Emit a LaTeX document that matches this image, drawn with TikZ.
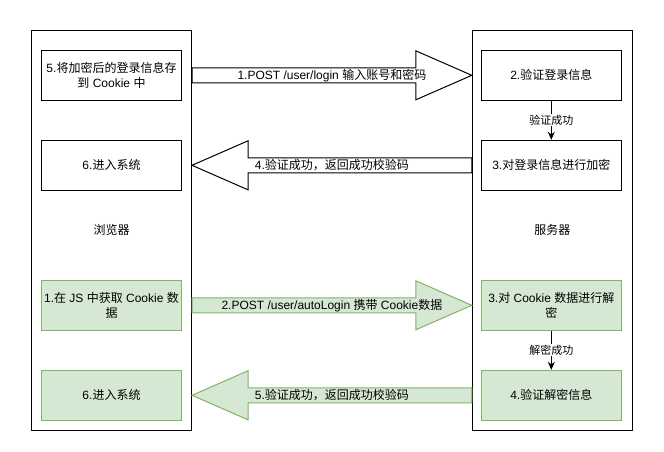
\documentclass[tikz,border=0pt]{standalone}
\usepackage{fontspec}
\setmainfont{Liberation Sans}
\newfontfamily\cjk{Noto Sans CJK SC}
\usetikzlibrary{arrows.meta,calc}
\newcommand{\zh}[1]{{\cjk #1}}
\definecolor{gfill}{HTML}{D5E8D4}
\definecolor{gline}{HTML}{82B366}
% #1 style, #2 tail coordinate, #3 tip coordinate, #4 label
\newcommand{\bigarrow}[4]{%
  \coordinate (hb) at ($(#3)!56pt!(#2)$);
  \draw[#1] ($(#2)+(0,7.5)$) -- ($(hb)+(0,7.5)$) -- ($(hb)+(0,24.5)$) -- (#3)
    -- ($(hb)+(0,-24.5)$) -- ($(hb)+(0,-7.5)$) -- ($(#2)+(0,-7.5)$) -- cycle;
  \node[txt] at ($(#2)!0.5!(#3)$) {#4};
}
\begin{document}
\begin{tikzpicture}[x=1pt,y=-1pt,
  txt/.style={font=\fontsize{12}{14.5}\selectfont, text=black, inner sep=0},
  lane/.style={txt, draw, line width=1pt, minimum width=160pt, minimum height=399.7pt},
  stepbox/.style={txt, draw, line width=1pt, minimum width=140pt, minimum height=50pt, align=center, fill=white},
  greenbox/.style={stepbox, fill=gfill, draw=gline},
  whitearrow/.style={draw=black, fill=white, line width=1pt, line join=miter},
  greenarrow/.style={draw=gline, fill=gfill, line width=1pt, line join=miter},
  flow/.style={draw, line width=1pt, -{Stealth[length=8pt,width=7pt]}},
  flowlab/.style={font=\fontsize{11}{13}\selectfont, fill=white, inner sep=1pt}
]
\useasboundingbox (0,0) rectangle (664,451);

\node[lane] (L) at (111.5,230.15) {\zh{浏览器}};
\node[lane] (R) at (552.3,230.15) {\zh{服务器}};

\node[stepbox]  (a1) at (111.5,75.3)  {5.\zh{将加密后的登录信息存}\\\zh{到} Cookie \zh{中}};
\node[stepbox]  (a2) at (111.5,165.3) {6.\zh{进入系统}};
\node[greenbox] (a3) at (111.5,305.3) {1.\zh{在} JS \zh{中获取} Cookie \zh{数}\\\zh{据}};
\node[greenbox] (a4) at (111.5,395.3) {6.\zh{进入系统}};

\node[stepbox]  (b1) at (551.3,75.3)  {2.\zh{验证登录信息}};
\node[stepbox]  (b2) at (551.3,165.3) {3.\zh{对登录信息进行加密}};
\node[greenbox] (b3) at (551.3,305.3) {3.\zh{对} Cookie \zh{数据进行解}\\\zh{密}};
\node[greenbox] (b4) at (551.3,395.3) {4.\zh{验证解密信息}};

\coordinate (t1) at (L.east |- a1);
\coordinate (h1) at (R.west |- a1);
\bigarrow{whitearrow}{t1}{h1}{1.POST /user/login \zh{输入账号和密码}}

\coordinate (t2) at (R.west |- a2);
\coordinate (h2) at (L.east |- a2);
\bigarrow{whitearrow}{t2}{h2}{4.\zh{验证成功，返回成功校验码}}

\coordinate (t3) at (L.east |- a3);
\coordinate (h3) at (R.west |- a3);
\bigarrow{greenarrow}{t3}{h3}{2.POST /user/autoLogin \zh{携带} Cookie\zh{数据}}

\coordinate (t4) at (R.west |- a4);
\coordinate (h4) at (L.east |- a4);
\bigarrow{greenarrow}{t4}{h4}{5.\zh{验证成功，返回成功校验码}}

\draw[flow] (b1) -- (b2) node[midway, flowlab] {\zh{验证成功}};
\draw[flow] (b3) -- (b4) node[midway, flowlab] {\zh{解密成功}};
\end{tikzpicture}
\end{document}
